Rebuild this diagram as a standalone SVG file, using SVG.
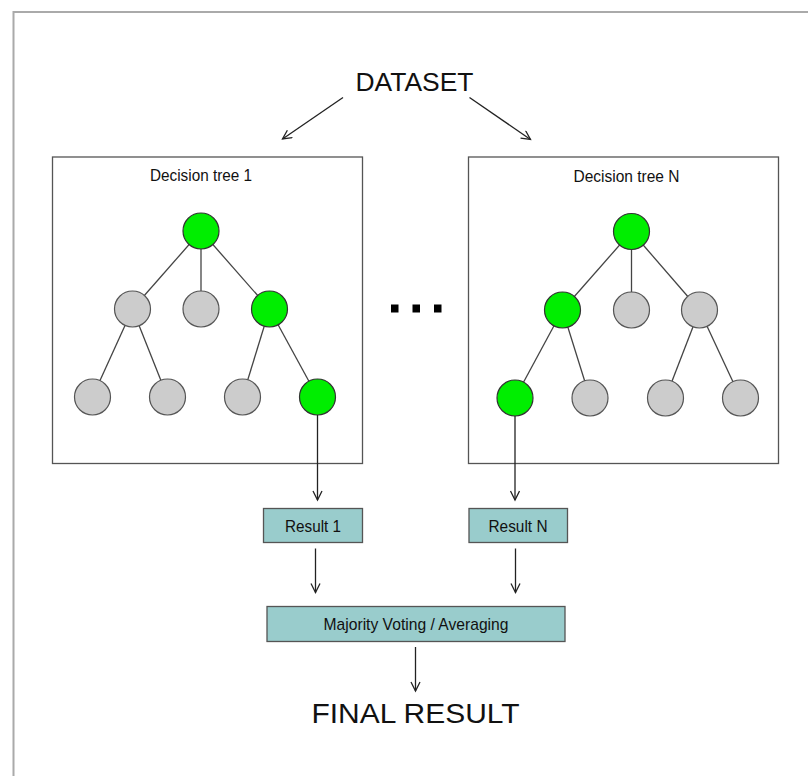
<svg xmlns="http://www.w3.org/2000/svg" width="808" height="776" viewBox="0 0 808 776">
<defs>
<marker id="ah" markerUnits="userSpaceOnUse" markerWidth="14" markerHeight="14" refX="10" refY="5" orient="auto">
<path d="M1,0.5 L10,5 L1,9.5" fill="none" stroke="#222" stroke-width="1.3"/>
</marker>
<style>
text{font-family:"Liberation Sans",Arial,sans-serif;fill:#111;}
.box{fill:#fff;stroke:#555;stroke-width:1.3;}
.res{fill:#99cccc;stroke:#555;stroke-width:1.3;}
.g{fill:#00ee00;stroke:#333;stroke-width:1.2;}
.n{fill:#cccccc;stroke:#555;stroke-width:1.2;}
.e{stroke:#444;stroke-width:1.3;fill:none;}
.c{stroke:#222;stroke-width:1.3;fill:none;marker-end:url(#ah);}
</style>
</defs>
<rect width="808" height="776" fill="#fff"/>
<path d="M13.5,790 L13.5,12 L820,12" fill="none" stroke="#aaa" stroke-width="2"/>

<g id="dataset"><text x="414.5" y="91" font-size="25" text-anchor="middle" textLength="118" lengthAdjust="spacingAndGlyphs">DATASET</text></g>

<g id="tree1">
<rect class="box" x="52.5" y="157" width="310" height="306.5"/>
<text x="201" y="181" font-size="16" text-anchor="middle" textLength="102" lengthAdjust="spacingAndGlyphs">Decision tree 1</text>
<g class="e">
<line x1="201" y1="231" x2="132.5" y2="309"/>
<line x1="201" y1="231" x2="201" y2="309"/>
<line x1="201" y1="231" x2="269.5" y2="309"/>
<line x1="132.5" y1="309" x2="92.5" y2="397"/>
<line x1="132.5" y1="309" x2="167.5" y2="397"/>
<line x1="269.5" y1="309" x2="242.5" y2="397"/>
<line x1="269.5" y1="309" x2="317.5" y2="397"/>
</g>
<circle class="g" cx="201" cy="231" r="18"/>
<circle class="n" cx="132.5" cy="309" r="18"/>
<circle class="n" cx="201" cy="309" r="18"/>
<circle class="g" cx="269.5" cy="309" r="18"/>
<circle class="n" cx="92.5" cy="397" r="18"/>
<circle class="n" cx="167.5" cy="397" r="18"/>
<circle class="n" cx="242.5" cy="397" r="18"/>
<circle class="g" cx="317.5" cy="397" r="18"/>
</g>

<g id="treeN">
<rect class="box" x="468.5" y="157" width="310" height="306.5"/>
<text x="626.5" y="182" font-size="16" text-anchor="middle" textLength="106" lengthAdjust="spacingAndGlyphs">Decision tree N</text>
<g class="e">
<line x1="631.5" y1="231.5" x2="562.5" y2="310"/>
<line x1="631.5" y1="231.5" x2="631.5" y2="310"/>
<line x1="631.5" y1="231.5" x2="699.5" y2="310"/>
<line x1="562.5" y1="310" x2="515" y2="398"/>
<line x1="562.5" y1="310" x2="590" y2="398"/>
<line x1="699.5" y1="310" x2="665.5" y2="398"/>
<line x1="699.5" y1="310" x2="740.5" y2="398"/>
</g>
<circle class="g" cx="631.5" cy="231.5" r="18"/>
<circle class="g" cx="562.5" cy="310" r="18"/>
<circle class="n" cx="631.5" cy="310" r="18"/>
<circle class="n" cx="699.5" cy="310" r="18"/>
<circle class="g" cx="515" cy="398" r="18"/>
<circle class="n" cx="590" cy="398" r="18"/>
<circle class="n" cx="665.5" cy="398" r="18"/>
<circle class="n" cx="740.5" cy="398" r="18"/>
</g>

<g id="dots" fill="#000">
<rect x="391" y="304.5" width="7.5" height="8"/>
<rect x="412.5" y="304.5" width="7.5" height="8"/>
<rect x="434" y="304.5" width="7.5" height="8"/>
</g>

<g id="result1">
<rect class="res" x="263.5" y="508.5" width="99" height="34"/>
<text x="313" y="531.5" font-size="17" text-anchor="middle" textLength="56" lengthAdjust="spacingAndGlyphs">Result 1</text>
</g>
<g id="resultN">
<rect class="res" x="469" y="508.5" width="98.5" height="34"/>
<text x="518" y="531.5" font-size="17" text-anchor="middle" textLength="59" lengthAdjust="spacingAndGlyphs">Result N</text>
</g>
<g id="majority">
<rect class="res" x="267" y="606.5" width="298" height="35"/>
<text x="416" y="630" font-size="17" text-anchor="middle" textLength="185" lengthAdjust="spacingAndGlyphs">Majority Voting / Averaging</text>
</g>
<g id="final"><text x="415.5" y="722.5" font-size="27" text-anchor="middle" textLength="208" lengthAdjust="spacingAndGlyphs">FINAL RESULT</text></g>

<g id="connectors">
<line class="c" x1="343" y1="97.5" x2="282.5" y2="139"/>
<line class="c" x1="469.5" y1="97.5" x2="530.5" y2="139.5"/>
<line class="c" x1="317.5" y1="415" x2="317.5" y2="500"/>
<line class="c" x1="515" y1="416" x2="515" y2="500"/>
<line class="c" x1="315.5" y1="548.5" x2="315.5" y2="592.5"/>
<line class="c" x1="515.5" y1="548.5" x2="515.5" y2="592.5"/>
<line class="c" x1="415.5" y1="647" x2="415.5" y2="691"/>
</g>
</svg>
